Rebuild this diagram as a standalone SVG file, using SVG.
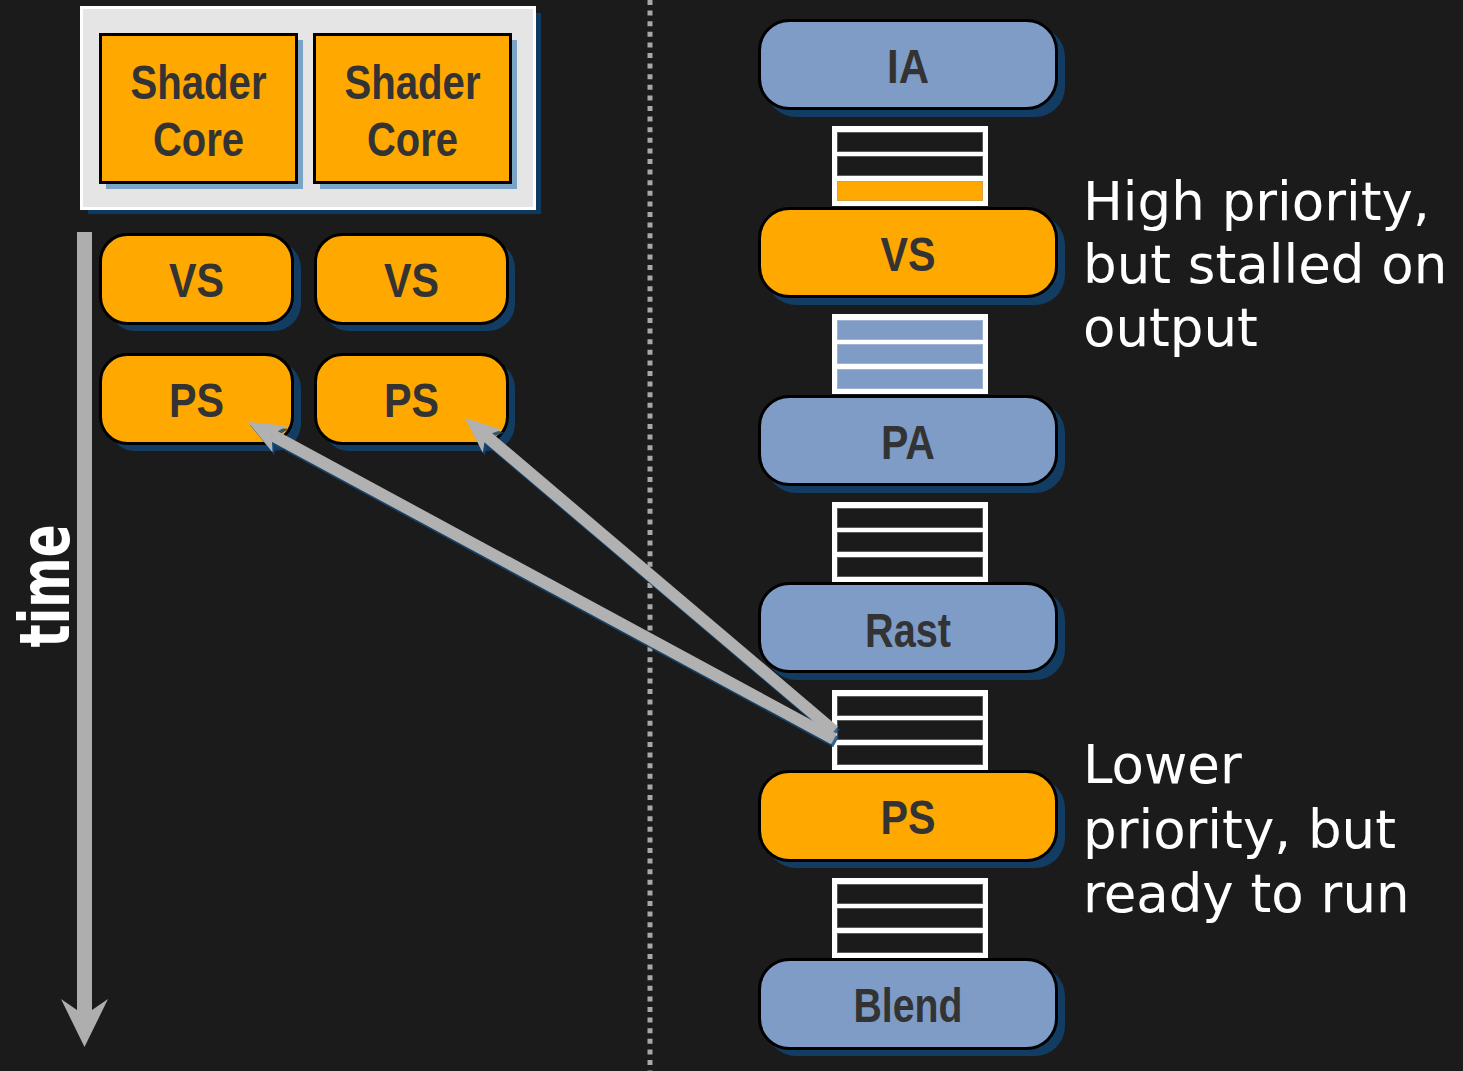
<svg xmlns="http://www.w3.org/2000/svg" width="1463" height="1071" viewBox="0 0 1463 1071">
  <style>
    .lbl { font-family: "Liberation Sans Narrow", "Arial Narrow", "Liberation Sans", sans-serif; font-weight: bold; font-size: 48px; fill: #333333; text-anchor: middle; }
    .note { font-family: "DejaVu Sans", Verdana, sans-serif; font-size: 53px; fill: #ffffff; }
    .orange { fill: #ffa800; stroke: #000000; stroke-width: 3; }
    .blue { fill: #7f9cc7; stroke: #000000; stroke-width: 3; }
    .shadow { fill: #123c62; }
    .qframe { fill: #ffffff; }
    .cell { fill: #1b1b1b; stroke: #5a5a5a; stroke-width: 1; }
    .cell.o { fill: #ffa800; stroke: #d9a040; }
    .cell.b { fill: #7f9cc7; stroke: #9fb3d3; }
    .arrow { fill: #b1b1b1; }
    .ashadow { fill: #164a78; opacity: 0.85; }
  </style>

  <!-- background -->
  <rect x="0" y="0" width="1463" height="1071" fill="#1b1b1b"/>

  <!-- dotted separator -->
  <line x1="650" y1="0" x2="650" y2="1071" stroke="#a8a8a8" stroke-width="5" stroke-dasharray="5 5.6"/>

  <!-- shader core panel -->
  <g id="shader-cores">
    <rect x="88" y="13" width="453" height="201" fill="#0f3a5f"/>
    <rect x="81.5" y="7.5" width="453" height="201" fill="#e5e5e5" stroke="#ffffff" stroke-width="3"/>
    <rect x="106" y="40" width="197" height="149" fill="#7aa3c8"/>
    <rect x="320" y="40" width="197" height="149" fill="#7aa3c8"/>
    <rect class="orange" x="100.5" y="34.5" width="196" height="148"/>
    <rect class="orange" x="314.5" y="34.5" width="196" height="148"/>
    <text class="lbl" x="198.5" y="99" textLength="136" lengthAdjust="spacingAndGlyphs">Shader</text>
    <text class="lbl" x="198.5" y="156" textLength="91" lengthAdjust="spacingAndGlyphs">Core</text>
    <text class="lbl" x="412.5" y="99" textLength="136" lengthAdjust="spacingAndGlyphs">Shader</text>
    <text class="lbl" x="412.5" y="156" textLength="91" lengthAdjust="spacingAndGlyphs">Core</text>
  </g>

  <!-- time axis -->
  <g id="time-axis">
    <rect x="77" y="232" width="15" height="780" fill="#aeaeae"/>
    <polygon points="77,1010 61,999 84.5,1047 108,999 92,1010" fill="#aeaeae"/>
    <text transform="translate(69,586) rotate(-90)" x="0" y="0" text-anchor="middle" textLength="123" lengthAdjust="spacingAndGlyphs" font-family="'DejaVu Sans', Verdana, sans-serif" font-weight="bold" font-size="70" fill="#ffffff">time</text>
  </g>

  <!-- shader slots over time -->
  <g id="slot-vs-1">
    <rect class="shadow" x="108" y="241" width="193" height="90" rx="27"/>
    <rect class="orange" x="100.5" y="234.5" width="192" height="89" rx="27"/>
    <text class="lbl" x="196.5" y="297" textLength="55" lengthAdjust="spacingAndGlyphs">VS</text>
  </g>
  <g id="slot-vs-2">
    <rect class="shadow" x="322" y="241" width="193" height="90" rx="27"/>
    <rect class="orange" x="315.5" y="234.5" width="192" height="89" rx="27"/>
    <text class="lbl" x="411.5" y="297" textLength="55" lengthAdjust="spacingAndGlyphs">VS</text>
  </g>
  <g id="slot-ps-1">
    <rect class="shadow" x="108" y="361" width="193" height="90" rx="27"/>
    <rect class="orange" x="100.5" y="354.5" width="192" height="89" rx="27"/>
    <text class="lbl" x="196.5" y="417" textLength="55" lengthAdjust="spacingAndGlyphs">PS</text>
  </g>
  <g id="slot-ps-2">
    <rect class="shadow" x="322" y="361" width="193" height="90" rx="27"/>
    <rect class="orange" x="315.5" y="354.5" width="192" height="89" rx="27"/>
    <text class="lbl" x="411.5" y="417" textLength="55" lengthAdjust="spacingAndGlyphs">PS</text>
  </g>

  <!-- pipeline stages -->
  <g id="stage-ia">
    <rect class="shadow" x="766" y="27" width="299" height="90" rx="30"/>
    <rect class="blue" x="759.5" y="20.5" width="297" height="88" rx="30"/>
    <text class="lbl" x="908" y="83" textLength="42" lengthAdjust="spacingAndGlyphs">IA</text>
  </g>
  <g id="queue-1">
    <rect class="qframe" x="832" y="126" width="156" height="80"/>
    <rect class="cell" x="837.5" y="132.5" width="145" height="19"/>
    <rect class="cell" x="837.5" y="156.5" width="145" height="19"/>
    <rect class="cell o" x="837.5" y="181.5" width="145" height="19"/>
  </g>
  <g id="stage-vs">
    <rect class="shadow" x="766" y="215" width="299" height="90" rx="30"/>
    <rect class="orange" x="759.5" y="208.5" width="297" height="88" rx="30"/>
    <text class="lbl" x="908" y="271" textLength="55" lengthAdjust="spacingAndGlyphs">VS</text>
  </g>
  <g id="queue-2">
    <rect class="qframe" x="832" y="314" width="156" height="80"/>
    <rect class="cell b" x="837.5" y="320.5" width="145" height="19"/>
    <rect class="cell b" x="837.5" y="344.5" width="145" height="19"/>
    <rect class="cell b" x="837.5" y="369.5" width="145" height="19"/>
  </g>
  <g id="stage-pa">
    <rect class="shadow" x="766" y="403" width="299" height="90" rx="30"/>
    <rect class="blue" x="759.5" y="396.5" width="297" height="88" rx="30"/>
    <text class="lbl" x="908" y="459" textLength="54" lengthAdjust="spacingAndGlyphs">PA</text>
  </g>
  <g id="queue-3">
    <rect class="qframe" x="832" y="502" width="156" height="80"/>
    <rect class="cell" x="837.5" y="508.5" width="145" height="19"/>
    <rect class="cell" x="837.5" y="532.5" width="145" height="19"/>
    <rect class="cell" x="837.5" y="557.5" width="145" height="19"/>
  </g>
  <g id="stage-rast">
    <rect class="shadow" x="766" y="590" width="299" height="90" rx="30"/>
    <rect class="blue" x="759.5" y="583.5" width="297" height="88" rx="30"/>
    <text class="lbl" x="908" y="647" textLength="86" lengthAdjust="spacingAndGlyphs">Rast</text>
  </g>
  <g id="queue-4">
    <rect class="qframe" x="832" y="690" width="156" height="80"/>
    <rect class="cell" x="837.5" y="696.5" width="145" height="19"/>
    <rect class="cell" x="837.5" y="720.5" width="145" height="19"/>
    <rect class="cell" x="837.5" y="745.5" width="145" height="19"/>
  </g>
  <g id="stage-ps">
    <rect class="shadow" x="766" y="778" width="299" height="90" rx="30"/>
    <rect class="orange" x="759.5" y="771.5" width="297" height="89" rx="30"/>
    <text class="lbl" x="908" y="834" textLength="55" lengthAdjust="spacingAndGlyphs">PS</text>
  </g>
  <g id="queue-5">
    <rect class="qframe" x="832" y="878" width="156" height="80"/>
    <rect class="cell" x="837.5" y="884.5" width="145" height="19"/>
    <rect class="cell" x="837.5" y="908.5" width="145" height="19"/>
    <rect class="cell" x="837.5" y="933.5" width="145" height="19"/>
  </g>
  <g id="stage-blend">
    <rect class="shadow" x="766" y="966" width="299" height="90" rx="30"/>
    <rect class="blue" x="759.5" y="959.5" width="297" height="89" rx="30"/>
    <text class="lbl" x="908" y="1022" textLength="109" lengthAdjust="spacingAndGlyphs">Blend</text>
  </g>

  <!-- annotations -->
  <g id="note-vs">
    <text class="note" x="1083" y="220">High priority,</text>
    <text class="note" x="1083" y="283">but stalled on</text>
    <text class="note" x="1083" y="346">output</text>
  </g>
  <g id="note-ps">
    <text class="note" x="1083" y="783">Lower</text>
    <text class="note" x="1083" y="848">priority, but</text>
    <text class="note" x="1083" y="912">ready to run</text>
  </g>

  <!-- connectors: PS work dispatched from the queue to the shader slots -->
  <g id="connectors">
    <g transform="translate(2,3)">
      <line x1="834" y1="739" x2="271.75" y2="434.85" stroke="#164a78" stroke-width="12" opacity="0.85"/>
      <polygon class="ashadow" points="248,422 286.81,425.94 271.75,434.85 272.53,452.32"/>
      <line x1="834" y1="731" x2="485.59" y2="435.46" stroke="#164a78" stroke-width="12" opacity="0.85"/>
      <polygon class="ashadow" points="465,418 502.15,429.84 485.59,435.46 482.75,452.72"/>
    </g>
    <line x1="834" y1="739" x2="271.75" y2="434.85" stroke="#b1b1b1" stroke-width="12"/>
    <polygon class="arrow" points="248,422 286.81,425.94 271.75,434.85 272.53,452.32"/>
    <line x1="834" y1="731" x2="485.59" y2="435.46" stroke="#b1b1b1" stroke-width="12"/>
    <polygon class="arrow" points="465,418 502.15,429.84 485.59,435.46 482.75,452.72"/>
  </g>
</svg>
